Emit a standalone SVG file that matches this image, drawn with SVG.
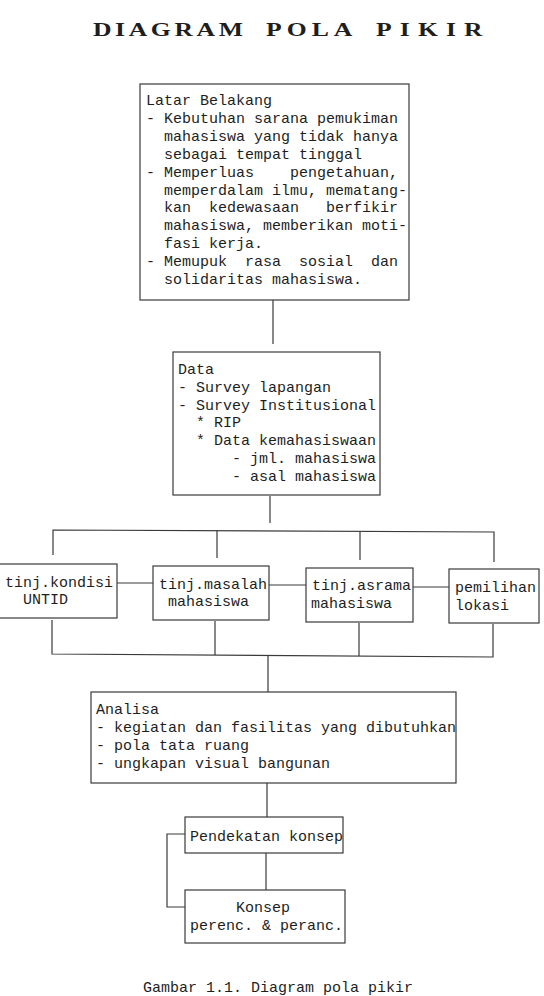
<svg xmlns="http://www.w3.org/2000/svg" width="544" height="996" viewBox="0 0 544 996">
<style>
  .bg { fill: #ffffff; }
  .box { fill: none; stroke: #3a3a3a; stroke-width: 1.2; }
  .ln { fill: none; stroke: #3a3a3a; stroke-width: 1.2; }
  .t { font-family: "Liberation Mono", "DejaVu Sans Mono", monospace; font-size: 15px; fill: #1e1e1e; white-space: pre; }
  .title { font-family: "Liberation Serif", "DejaVu Serif", serif; font-weight: bold; font-size: 19px; fill: #1e1e1e; }
</style>
<rect class="bg" x="0" y="0" width="544" height="996"/>

<g id="title">
  <g transform="translate(93 36) scale(1.35 1)"><text class="title" x="0" y="0" textLength="111" lengthAdjust="spacing">DIAGRAM</text></g>
  <g transform="translate(266 36) scale(1.35 1)"><text class="title" x="0" y="0" textLength="64" lengthAdjust="spacing">POLA</text></g>
  <g transform="translate(376 36) scale(1.35 1)"><text class="title" x="0" y="0" textLength="79" lengthAdjust="spacing">PIKIR</text></g>
</g>

<g id="connectors">
  <path class="ln" d="M273 300 V344"/>
  <path class="ln" d="M270 496 V523"/>
  <path class="ln" d="M53 555 V530 L494 532 V562"/>
  <path class="ln" d="M217 530.7 V558"/>
  <path class="ln" d="M360 531.4 V560"/>
  <path class="ln" d="M117 583 H153"/>
  <path class="ln" d="M269 585 H306"/>
  <path class="ln" d="M413 587 H449"/>
  <path class="ln" d="M52 620 V654 L493 657 V624"/>
  <path class="ln" d="M215 621 V655"/>
  <path class="ln" d="M359 623 V656"/>
  <path class="ln" d="M268 656 V692"/>
  <path class="ln" d="M267 783 V817"/>
  <path class="ln" d="M266 853 V890"/>
  <path class="ln" d="M185 834 H167 V907 H185"/>
</g>

<g id="latar-belakang">
  <rect class="box" x="140" y="84" width="269" height="216"/>
  <text class="t" x="146" y="105">Latar Belakang</text>
  <text class="t" x="146" y="123">- Kebutuhan sarana pemukiman</text>
  <text class="t" x="146" y="141">  mahasiswa yang tidak hanya</text>
  <text class="t" x="146" y="159">  sebagai tempat tinggal</text>
  <text class="t" x="146" y="177">- Memperluas    pengetahuan,</text>
  <text class="t" x="146" y="195">  memperdalam ilmu, mematang-</text>
  <text class="t" x="146" y="212">  kan  kedewasaan   berfikir</text>
  <text class="t" x="146" y="230">  mahasiswa, memberikan moti-</text>
  <text class="t" x="146" y="248">  fasi kerja.</text>
  <text class="t" x="146" y="266">- Memupuk  rasa  sosial  dan</text>
  <text class="t" x="146" y="284">  solidaritas mahasiswa.</text>
</g>

<g id="data">
  <rect class="box" x="173" y="352" width="207" height="143"/>
  <text class="t" x="178" y="374">Data</text>
  <text class="t" x="178" y="392">- Survey lapangan</text>
  <text class="t" x="178" y="410">- Survey Institusional</text>
  <text class="t" x="178" y="427">  * RIP</text>
  <text class="t" x="178" y="445">  * Data kemahasiswaan</text>
  <text class="t" x="178" y="463">      - jml. mahasiswa</text>
  <text class="t" x="178" y="481">      - asal mahasiswa</text>
</g>

<g id="tinj-kondisi">
  <rect class="box" x="-1" y="564" width="118" height="54"/>
  <text class="t" x="5" y="587">tinj.kondisi</text>
  <text class="t" x="5" y="604">  UNTID</text>
</g>

<g id="tinj-masalah">
  <rect class="box" x="153" y="566" width="116" height="54"/>
  <text class="t" x="159" y="589">tinj.masalah</text>
  <text class="t" x="159" y="606"> mahasiswa</text>
</g>

<g id="tinj-asrama">
  <rect class="box" x="306" y="568" width="107" height="54"/>
  <text class="t" x="312" y="590">tinj.asrama</text>
  <text class="t" x="311" y="608">mahasiswa</text>
</g>

<g id="pemilihan-lokasi">
  <rect class="box" x="449" y="569" width="90" height="54"/>
  <text class="t" x="455" y="592">pemilihan</text>
  <text class="t" x="455" y="610">lokasi</text>
</g>

<g id="analisa">
  <rect class="box" x="91" y="692" width="365" height="91"/>
  <text class="t" x="96" y="714">Analisa</text>
  <text class="t" x="96" y="732">- kegiatan dan fasilitas yang dibutuhkan</text>
  <text class="t" x="96" y="750">- pola tata ruang</text>
  <text class="t" x="96" y="768">- ungkapan visual bangunan</text>
</g>

<g id="pendekatan-konsep">
  <rect class="box" x="185" y="817" width="158" height="36"/>
  <text class="t" x="190" y="841">Pendekatan konsep</text>
</g>

<g id="konsep">
  <rect class="box" x="185" y="890" width="160" height="53"/>
  <text class="t" x="236" y="912">Konsep</text>
  <text class="t" x="190" y="930">perenc. &amp; peranc.</text>
</g>

<g id="caption">
  <text class="t" x="143" y="992">Gambar 1.1. Diagram pola pikir</text>
</g>
</svg>
